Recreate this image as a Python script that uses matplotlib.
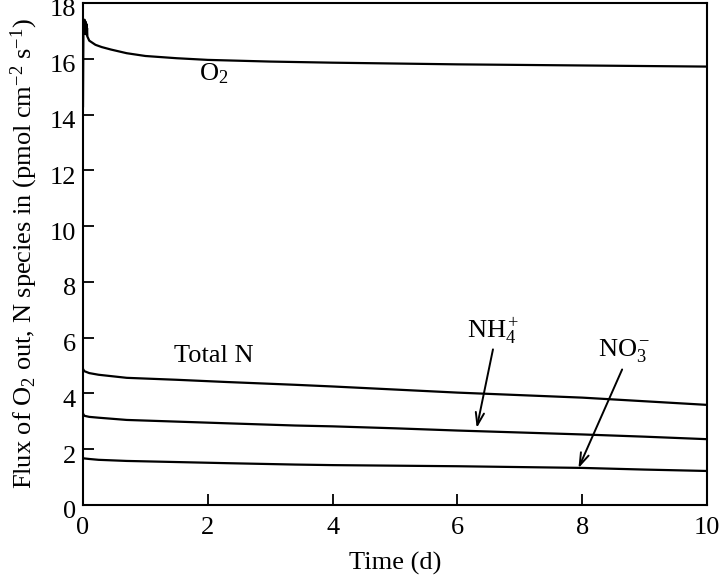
import matplotlib
matplotlib.use("Agg")
import matplotlib.pyplot as plt
import matplotlib.transforms as mtransforms

plt.rcParams['font.family'] = ['Liberation Serif', 'DejaVu Serif']
plt.rcParams['mathtext.fontset'] = 'custom'
plt.rcParams['mathtext.rm'] = 'Liberation Serif'
plt.rcParams['mathtext.it'] = 'Liberation Serif:italic'
plt.rcParams['mathtext.bf'] = 'Liberation Serif:bold'

# O2 flux out
t_o2 = [0, 0.004, 0.008, 0.012, 0.016, 0.02, 0.025, 0.03, 0.035, 0.04, 0.045,
        0.05, 0.055, 0.06, 0.065, 0.07, 0.08, 0.1,
        0.2, 0.3, 0.45, 0.7, 1.0, 1.5, 2, 3, 4, 6, 8, 10]
o2 = [14.3, 16.0, 17.4, 16.9, 17.35, 16.9, 17.4, 16.95, 17.35, 16.9, 17.3,
      16.9, 17.25, 16.85, 17.1, 16.8, 16.75, 16.65,
      16.5, 16.42, 16.33, 16.2, 16.1, 16.02, 15.96, 15.9, 15.86, 15.8, 15.76, 15.72]

# N species flux in
t_n = [0, 0.02, 0.1, 0.25, 0.7, 1.5, 2.3, 3.4, 4, 5, 6, 7, 8, 9, 10]
total_n = [4.88, 4.8, 4.73, 4.67, 4.56, 4.49, 4.41, 4.31, 4.25, 4.14, 4.03,
           3.94, 3.85, 3.72, 3.59]
nh4 = [3.28, 3.2, 3.16, 3.13, 3.05, 2.99, 2.93, 2.85, 2.82, 2.75, 2.67,
       2.6, 2.53, 2.45, 2.36]
no3 = [1.68, 1.67, 1.65, 1.62, 1.58, 1.54, 1.5, 1.45, 1.43, 1.41, 1.39,
       1.36, 1.33, 1.27, 1.22]

xticks = [0, 2, 4, 6, 8, 10]
yticks = [0, 2, 4, 6, 8, 10, 12, 14, 16, 18]

fs = 19
fig = plt.figure(figsize=(7.2, 5.78), dpi=100)
ax = fig.add_axes([83/720, (578-505)/578, 624/720, 502/578])

lw = 1.6
ax.plot(t_o2, o2, color='black', lw=lw)
ax.plot(t_n, total_n, color='black', lw=lw)
ax.plot(t_n, nh4, color='black', lw=lw)
ax.plot(t_n, no3, color='black', lw=lw)

ax.set_xlim(0, 10)
ax.set_ylim(0, 18)
ax.set_xticks(xticks)
ax.set_yticks(yticks)
ax.tick_params(direction='in', length=8, width=1.3, labelsize=fs,
               top=False, right=False)
ax.tick_params(axis='x', pad=9)
ax.tick_params(axis='y', pad=5)
for s in ax.spines.values():
    s.set_linewidth(1.5)

shift = mtransforms.ScaledTranslation(0, -5/100, fig.dpi_scale_trans)
for lab in ax.get_yticklabels():
    lab.set_transform(lab.get_transform() + shift)

ax.set_xlabel('Time (d)', fontsize=fs, labelpad=9)
ax.set_ylabel(r'Flux of O$_2$ out, N species in (pmol cm$^{-2}$ s$^{-1}$)',
              fontsize=fs, labelpad=7)

ax.text(2.1, 15.45, r'O$_2$', fontsize=fs, ha='center', va='center')
ax.text(2.1, 5.35, 'Total N', fontsize=fs, ha='center', va='center')

ax.text(6.58, 6.25, r'NH$_4^+$', fontsize=fs, ha='center', va='center')
ax.text(8.67, 5.55, r'NO$_3^-$', fontsize=fs, ha='center', va='center')

arrow = dict(arrowstyle='->,head_length=0.9,head_width=0.3', color='black',
             lw=1.4, shrinkA=0, shrinkB=0)
ax.annotate('', xy=(6.31, 2.76), xytext=(6.57, 5.58), arrowprops=arrow)
ax.annotate('', xy=(7.94, 1.32), xytext=(8.64, 4.86), arrowprops=arrow)

fig.savefig('out.png', dpi=100)
